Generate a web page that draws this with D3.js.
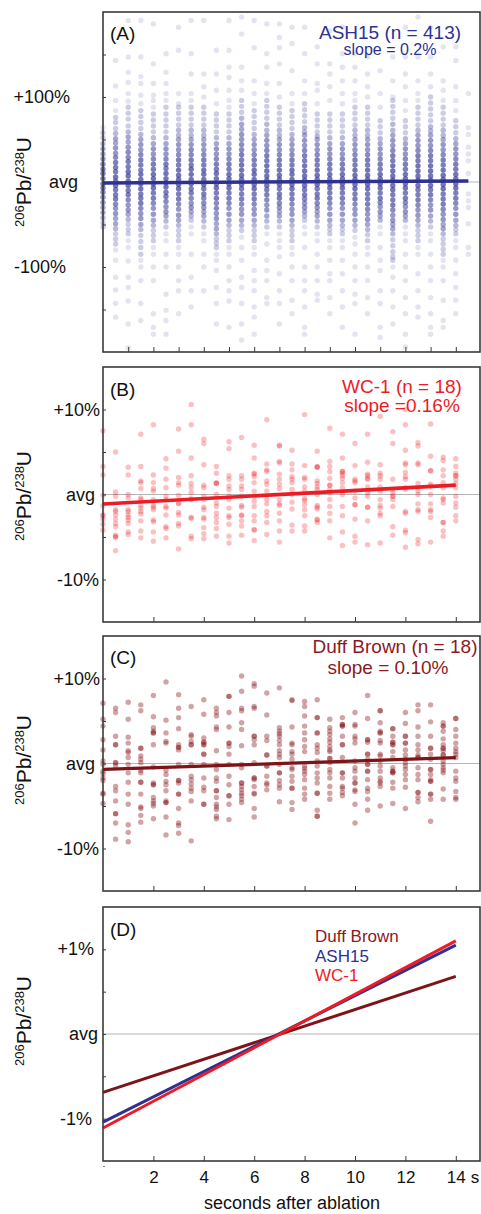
<!DOCTYPE html>
<html><head><meta charset="utf-8">
<script src="https://cdn.jsdelivr.net/npm/d3@7"></script>
<style>
body{margin:0;background:#fff}
svg{display:block}
text{font-family:"Liberation Sans",Arial,Helvetica,sans-serif}
</style>
</head><body>
<svg id="chart" width="481" height="1214"></svg>
<script>
// ---------------- DATA ----------------
// Panel A: ASH15 — one column per half second; entries "value" or "value:stacked count" (percent from average)
const ashTimes = [0,0.5,1,1.5,2,2.5,3,3.5,4,4.5,5,5.5,6,6.5,7,7.5,8,8.5,9,9.5,10,10.5,11,11.5,12,12.5,13,13.5,14,14.5];
const ashColumns = [
"64 58:2 52:2 45:3 39:4 33:4 27:5 21:6 15:7 10:7 4:7 -2:7 -7:7 -12:6 -18:5 -24:5 -30:4 -36:4 -42:3 -48:2 -53:2",
"143 113 96 84 76:2 70:2 63:2 57:3 51:4 46:4 40:5 34:5 29:6 23:7 17:7 12:7 6:8 1:8 -4:8 -9:7 -15:7 -20:7 -26:6 -31:5 -37:5 -43:4 -49:4 -55:3 -61:2 -67:2 -73:2 -80 -92 -112 -127 -143 -159",
"190 147 129 117 104 95 88:2 81:2 74:2 66:2 59:3 53:4 47:4 41:5 35:6 29:6 24:7 18:7 12:8 7:8 1:8 -4:8 -10:7 -15:7 -21:6 -27:5 -33:5 -38:4 -44:3 -50:2 -56:2 -61:2 -69 -77 -93 -112 -124 -140 -167 -195",
"190 147 124 116 102 92 84:2 77:2 70:2 63:2 56:3 50:4 44:5 38:5 32:6 26:7 20:7 14:7 9:8 3:8 -2:8 -8:8 -14:7 -19:7 -25:7 -31:6 -37:5 -43:5 -50:4 -56:3 -63:2 -70:2 -77:2 -85:2 -92 -100 -116 -143 -163",
"186 139 116 102 96 88 80:2 73:2 66:2 59:2 52:3 45:4 39:5 33:5 27:6 21:7 15:7 9:8 4:8 -2:8 -7:8 -13:7 -19:7 -25:6 -31:5 -38:5 -45:4 -51:3 -57:2 -63:2 -69:2 -77 -85 -100 -116 -155 -171 -179",
"151 129 116 104 96 88:2 80:2 73:2 66:2 59:2 52:3 45:4 39:5 33:5 27:6 21:7 16:7 10:8 4:8 -1:8 -6:8 -12:7 -17:7 -23:6 -29:5 -35:5 -40:4 -46:3 -53:2 -61 -69 -85 -100 -132 -151 -163 -179",
"182 155 104 92 88:2 81:2 74:2 67:2 61:3 55:3 50:4 44:5 38:5 32:6 26:7 20:7 14:8 8:8 3:8 -3:8 -8:8 -14:7 -20:7 -26:6 -32:5 -39:5 -45:4 -51:3 -57:2 -63:2 -69:2 -77 -85 -100 -116 -128 -155",
"190 151 127 104 96 88:2 81:2 74:2 67:2 61:3 55:3 50:4 44:5 38:6 32:6 26:7 20:7 15:8 9:8 3:8 -2:8 -8:7 -13:7 -19:6 -25:5 -30:5 -35:4 -40:3 -45:2 -53 -61 -85 -112 -128 -147",
"190 127 112 100 88:2 81:2 74:2 67:2 61:3 55:3 50:4 44:5 38:5 32:6 26:7 20:7 14:8 9:8 3:8 -3:8 -8:7 -14:7 -19:6 -25:6 -30:5 -35:4 -40:4 -46:3 -53:2 -61 -69 -85 -100 -128",
"155 127 108 92 80:2 73:2 66:2 59:2 52:3 45:4 39:5 33:5 27:6 21:7 15:7 10:8 4:8 -2:8 -7:8 -13:7 -19:7 -25:6 -31:6 -37:5 -43:5 -49:4 -55:4 -61:3 -67:2 -72:2 -77:2 -85 -92 -104 -124 -143 -167",
"190 155 135 123 108 96 88 80:2 73:2 66:2 59:2 52:3 45:4 39:5 33:5 27:6 21:7 15:7 9:8 4:8 -2:8 -7:8 -13:7 -19:7 -25:6 -31:5 -38:5 -45:4 -51:3 -57:2 -63:2 -69:2 -77 -85 -100 -116 -128 -140 -171",
"194 174 135 119 108 96:2 89:2 82:2 75:3 68:4 62:4 56:5 50:5 44:6 38:6 32:7 26:7 20:8 14:8 8:8 3:8 -3:8 -8:7 -14:7 -20:7 -26:6 -32:5 -38:5 -45:4 -51:3 -57:2 -65 -77 -92 -112 -124 -143 -167 -186",
"190 158 119 104 92 84:2 77:2 70:2 63:2 56:3 50:4 44:5 38:5 32:6 26:7 20:7 14:8 9:8 3:8 -3:8 -8:8 -14:7 -20:7 -26:6 -32:5 -38:5 -45:4 -51:3 -57:2 -63:2 -69:2 -77 -85 -104 -116 -128 -147 -159 -179",
"186 151 135 116 104 96:2 89:2 82:2 75:2 68:3 61:3 55:4 49:5 43:5 37:6 31:7 25:7 19:8 13:8 7:8 2:8 -4:8 -9:7 -15:7 -21:6 -27:5 -33:5 -40:4 -46:3 -53:2 -61 -73 -92 -104 -116 -136 -143",
"186 170 158 139 116 100 88:2 81:2 74:2 67:2 61:3 55:3 50:4 44:5 38:5 32:6 26:7 20:7 14:8 8:8 3:8 -3:8 -8:7 -14:7 -19:7 -25:6 -30:5 -35:4 -40:4 -46:3 -53:2 -61 -69 -77 -88 -108 -128 -143 -167",
"182 163 131 104 92 84:2 77:2 70:2 63:2 56:3 50:4 44:5 38:5 32:6 26:7 20:7 14:8 9:8 3:8 -3:8 -8:8 -14:7 -20:7 -26:6 -32:5 -38:5 -45:4 -51:3 -57:2 -63:2 -69:2 -77 -85 -100 -116 -139 -155",
"182 151 119 104 92:2 85:2 78:2 71:2 64:3 59:3 55:4 49:5 43:5 37:6 31:7 25:7 19:8 13:8 7:8 2:8 -4:8 -9:7 -15:7 -20:6 -25:5 -30:5 -35:4 -40:3 -45:2 -53 -61 -77 -100 -116 -128 -147 -171 -179",
"159 139 116 108 92 80:2 73:2 66:2 59:2 54:3 50:4 44:5 38:5 32:6 26:7 20:7 14:8 8:8 3:8 -3:8 -8:7 -14:7 -19:7 -25:6 -30:5 -35:4 -40:4 -46:3 -53:2 -61 -69 -85 -100 -116 -132 -139",
"178 139 127 112 96 80:2 73:2 66:2 59:2 52:3 45:4 39:5 33:5 27:6 21:7 15:7 9:8 4:8 -2:8 -7:8 -13:7 -19:7 -25:6 -31:5 -38:5 -45:4 -51:3 -56:2 -61:2 -69 -77 -92 -108 -116 -136 -155",
"182 151 135 119 104 92 80:2 73:2 66:2 59:2 52:3 45:4 39:5 33:5 27:6 21:7 15:7 9:8 4:8 -2:8 -7:8 -13:7 -19:7 -25:6 -31:5 -38:5 -45:4 -51:3 -56:2 -61:2 -69 -77 -92 -108 -128 -147 -171",
"151 135 119 104 96 88:2 81:2 74:2 67:2 61:3 55:3 50:4 44:5 38:5 32:6 26:7 20:7 14:8 8:8 3:8 -3:8 -8:8 -14:7 -20:7 -26:6 -32:5 -38:5 -45:4 -51:3 -57:2 -65 -73 -85 -100 -116 -132 -143 -179",
"147 127 112 100 88:2 81:2 74:2 67:2 61:3 55:3 50:4 44:5 38:5 32:6 26:7 20:7 14:8 8:8 3:8 -3:8 -8:8 -14:7 -20:7 -26:7 -32:6 -38:5 -44:5 -50:4 -56:3 -62:2 -69:2 -77 -85 -100 -116 -136 -155",
"131 104 88 72:2 65:2 58:2 51:3 45:4 39:5 33:5 27:6 21:7 15:7 9:8 4:8 -2:8 -7:8 -13:7 -19:7 -24:6 -29:5 -35:5 -40:4 -45:3 -53 -61 -77 -92 -104 -128 -143 -171 -183",
"147 119 100 96:2 89:2 82:2 75:2 68:3 61:3 55:4 49:5 43:5 37:6 31:7 25:7 19:8 13:8 7:8 2:8 -4:8 -9:8 -15:7 -21:7 -27:7 -33:6 -39:5 -45:5 -50:4 -55:4 -61:3 -68:2 -75:2 -82:2 -88:2 -92:2 -100 -112 -128 -147 -167",
"182 147 127 112 96 84 72:2 65:2 58:2 51:3 45:4 39:5 33:5 27:6 21:7 15:7 9:8 4:8 -2:8 -7:8 -13:7 -19:7 -24:6 -29:5 -35:5 -40:4 -45:3 -53 -61 -69 -85 -100 -116 -136 -155 -179 -194",
"194 147 119 104 96 88:2 81:2 74:2 67:2 61:3 55:4 49:5 43:5 37:6 31:7 25:7 19:8 13:8 7:8 2:8 -4:8 -9:7 -15:7 -21:7 -27:6 -33:5 -39:5 -45:4 -51:3 -57:2 -63:2 -69:2 -77 -85 -108 -128 -147 -159",
"182 147 127 112 100:2 93:2 86:2 79:2 72:2 65:3 60:3 55:4 49:5 43:5 37:6 31:7 25:7 19:8 13:8 7:8 2:8 -4:8 -9:7 -15:7 -21:6 -27:5 -33:5 -40:4 -46:3 -53:2 -61 -69 -85 -100 -116 -136 -155 -171 -179",
"159 119 108 96 88:2 81:2 74:2 67:2 61:3 55:3 50:4 44:5 38:5 32:6 26:7 20:7 14:8 8:8 3:8 -3:8 -8:8 -14:7 -20:7 -26:7 -32:6 -38:5 -44:5 -50:4 -55:4 -61:3 -67:2 -73:2 -79:2 -85:2 -92 -100 -116 -139 -163 -171",
"159 143 112 96 84 72:2 65:2 58:2 51:3 45:4 39:5 33:5 27:6 21:7 15:7 9:8 4:8 -2:8 -7:8 -13:7 -19:7 -25:6 -31:5 -38:5 -45:4 -51:3 -56:2 -61:2 -69 -77 -92 -108 -124 -139 -155",
"104 64 56 41 33 25 10 -14 -22 -30 -49 -77 -85"
];

// Panel B: WC-1 (percent from average)
const wcTimes = [0,0.5,1,1.5,2,2.5,3,3.5,4,4.5,5,5.5,6,6.5,7,7.5,8,8.5,9,9.5,10,10.5,11,11.5,12,12.5,13,13.5,14];
const wcValues = [
[7.5,3.3,2.3,-0.1,-1.3,-2.4,-2.5,-2.9,-3.5,-4.2],
[5.0,0.3,-0.2,-1.8,-2.0,-2.4,-2.9,-3.4,-3.8,-4.8,-5.0,-5.0,-6.6],
[3.2,2.3,0.0,-0.4,-1.8,-2.0,-2.4,-2.7,-3.0,-3.4,-4.4,-4.7],
[7.1,3.3,1.6,1.4,0.7,-0.4,-0.6,-1.3,-1.6,-2.0,-2.3,-3.1,-4.3,-5.1],
[8.2,2.3,1.4,0.7,0.4,-0.6,-1.3,-1.5,-1.8,-3.0,-3.2,-4.4,-5.5],
[4.2,3.1,1.8,0.8,-0.2,-0.6,-1.4,-1.6,-2.4,-3.8,-4.0,-5.1],
[7.7,5.1,2.0,1.4,1.1,-0.1,-1.0,-1.1,-2.1,-2.4,-3.4,-3.7,-6.4],
[10.6,8.2,4.3,2.2,1.3,0.8,0.2,-0.5,-0.6,-2.7,-2.8,-4.9,-5.2],
[6.5,6.0,3.5,1.1,0.8,-0.2,-0.6,-1.5,-1.8,-2.7,-2.9,-3.9,-4.6,-5.2],
[3.3,2.5,1.4,1.3,1.3,0.0,-1.0,-1.4,-2.2,-2.7,-3.3,-4.0,-4.9],
[6.2,5.4,2.2,1.8,1.0,0.6,-0.2,-0.6,-1.6,-2.5,-2.7,-3.5,-4.9,-5.7],
[6.7,2.2,1.8,1.0,0.6,-0.2,-1.3,-1.5,-2.4,-2.5,-3.1,-3.7,-4.8],
[5.8,4.3,2.5,2.4,2.1,1.4,0.4,-0.2,-0.8,-1.4,-2.5,-3.1,-4.1,-4.2,-5.4],
[8.8,3.6,2.9,2.7,1.6,1.2,0.4,-0.6,-1.1,-2.0,-2.5,-3.3,-4.7],
[5.8,5.7,3.9,3.7,2.4,1.8,1.2,0.7,-0.6,-1.1,-1.3,-2.2,-3.1,-4.3,-5.6],
[5.2,3.6,2.9,2.1,1.8,1.4,0.6,0.0,-0.9,-1.7,-3.6,-4.3],
[9.4,3.4,2.0,1.8,0.9,0.4,-0.5,-0.7,-1.2,-1.8,-2.5,-3.7,-4.3],
[5.1,3.3,3.2,3.2,1.6,1.3,0.9,0.6,0.0,-1.3,-1.5,-1.7,-2.9,-3.0,-3.3],
[7.8,3.9,3.3,2.7,1.9,1.1,1.1,0.6,0.2,-0.6,-1.4,-2.2,-3.1,-5.1],
[7.1,4.3,2.7,2.7,2.5,2.2,1.9,1.4,0.8,0.0,-1.4,-2.5,-4.4,-6.0],
[6.0,3.4,1.8,1.6,1.4,0.4,-0.4,-1.2,-1.2,-2.9,-4.9,-5.6],
[7.1,3.8,2.4,2.2,1.9,1.8,0.9,0.2,-0.2,-1.5,-1.5,-3.1,-5.9],
[9.2,3.5,2.5,2.2,1.8,0.9,0.4,-0.6,-1.3,-1.6,-2.2,-2.5,-5.7],
[7.4,6.0,1.8,0.6,0.2,-0.2,-0.2,-0.6,-1.4,-3.8,-4.8],
[10.0,8.2,5.2,3.7,3.5,2.6,2.1,1.8,0.8,0.6,-2.0,-2.2,-4.2,-4.5,-6.2],
[6.1,5.7,3.7,3.5,1.3,0.4,0.0,-1.1,-1.8,-2.0,-5.3,-5.8],
[8.3,4.5,2.8,2.8,1.2,1.0,0.0,-1.1,-1.8,-2.0,-2.7,-5.6],
[4.4,4.0,2.9,2.2,1.4,0.8,-0.4,-0.6,-1.0,-3.3,-3.3,-4.3,-4.9],
[4.2,3.3,2.5,2.2,2.2,1.8,1.3,0.8,-0.2,-1.0,-1.5,-2.5,-3.1]
];

// Panel C: Duff Brown (percent from average)
const dbTimes = [0,0.5,1,1.5,2,2.5,3,3.5,4,4.5,5,5.5,6,6.5,7,7.5,8,8.5,9,9.5,10,10.5,11,11.5,12,12.5,13,13.5,14];
const dbValues = [
[7.1,5.2,4.4,2.8,1.6,0.3,-0.1,-0.9,-1.2,-1.7,-2.0,-3.5,-3.6,-4.7],
[6.5,6.0,3.2,2.2,2.2,0.1,0.1,-0.3,-2.7,-3.2,-4.4,-5.9,-5.9,-7.0,-8.9],
[7.2,5.2,3.1,2.4,1.5,1.3,0.7,-0.1,-1.1,-2.2,-3.6,-4.8,-7.2,-8.1,-9.2],
[6.9,6.2,1.8,1.8,0.9,0.5,0.1,-0.8,-1.1,-2.2,-2.2,-3.6,-5.1,-5.3,-6.1,-6.9],
[8.0,5.5,4.2,3.8,3.6,3.6,2.2,-0.4,-2.3,-2.5,-2.5,-4.0,-4.4,-4.7,-5.0,-6.5],
[9.6,5.1,3.6,2.6,2.4,-0.8,-1.3,-2.1,-2.5,-3.2,-4.4,-4.6,-4.6,-6.3,-8.4],
[8.1,6.5,5.4,4.1,2.2,1.9,1.9,1.6,-0.1,-2.0,-2.0,-2.3,-3.6,-3.6,-5.3,-7.0,-7.3,-8.2],
[6.7,3.4,3.2,2.6,2.2,2.2,-0.1,-1.5,-1.9,-2.4,-2.9,-3.3,-4.4,-9.1],
[7.5,5.8,3.0,2.5,2.5,2.2,2.2,1.1,1.1,-0.1,-1.7,-2.8,-3.2,-4.8,-4.8],
[6.5,6.0,5.6,4.3,4.0,1.5,-0.1,-0.7,-1.7,-2.1,-3.2,-3.2,-4.0,-4.8,-5.1,-5.4,-6.2,-6.5],
[7.9,7.9,6.0,4.3,2.4,2.4,2.0,1.1,-0.1,-1.5,-2.5,-3.8,-3.8,-4.8,-6.6],
[10.3,8.5,6.5,6.2,4.8,4.0,2.1,-0.1,-0.5,-2.3,-2.3,-2.7,-3.1,-3.5,-3.8,-4.2,-4.6],
[9.4,9.1,6.7,6.5,3.2,3.2,2.8,2.2,0.1,-1.7,-1.7,-1.9,-2.7,-3.5,-3.6,-5.3,-6.3],
[8.3,5.7,3.2,2.7,1.0,1.0,-0.3,-0.3,-1.5,-2.3,-2.5,-3.1],
[8.9,4.2,3.8,3.5,3.2,2.7,2.2,1.5,1.1,0.7,-0.1,-1.1,-1.1,-2.0,-2.5,-2.9,-4.5],
[7.5,7.4,4.3,2.4,2.2,1.4,1.1,0.5,-0.5,-0.7,-1.5,-2.1,-2.9,-2.9,-4.6,-5.4],
[7.3,6.7,5.6,4.4,3.6,2.8,2.0,1.4,-0.3,-0.6,-0.9,-1.3,-1.9,-2.9,-3.6,-4.2],
[7.5,5.4,5.4,3.6,3.6,2.2,1.8,1.3,0.3,-0.3,-1.1,-1.7,-2.3,-3.5,-3.5,-5.5,-6.2,-6.2],
[5.2,4.2,3.8,3.4,2.9,2.5,2.0,1.6,1.4,0.6,0.6,0.1,-0.7,-1.1,-1.7,-2.7,-3.5,-4.2],
[5.4,4.6,4.6,4.4,4.4,3.2,2.2,2.2,0.7,-1.1,-1.1,-1.7,-2.7,-2.9,-3.4,-3.8],
[6.0,4.6,4.4,3.2,2.9,2.4,0.3,-0.5,-0.9,-1.7,-2.3,-2.3,-3.1,-3.3,-4.8,-7.0],
[8.0,5.3,2.8,2.8,2.5,1.1,1.1,0.5,-0.1,-0.1,-0.9,-0.9,-1.9,-2.9,-3.3,-4.2,-5.5],
[6.2,6.2,4.8,3.8,3.6,3.6,2.7,2.4,1.1,0.9,0.3,-0.3,-0.9,-1.7,-2.1,-2.3,-2.7,-5.0],
[4.1,4.1,3.2,2.5,2.5,2.2,2.2,1.4,0.7,-0.5,-0.9,-0.9,-1.1,-1.1,-2.2,-2.9,-4.7],
[6.0,4.7,3.2,3.2,2.4,2.4,1.6,1.0,0.5,0.1,-0.3,-0.7,-1.3,-1.9,-2.8,-5.3],
[6.9,6.2,4.3,3.2,2.2,1.6,1.0,0.7,0.7,-0.5,-1.3,-1.9,-3.4,-3.4,-4.0,-4.5],
[6.9,4.9,3.2,1.8,1.8,1.1,0.5,-0.7,-0.7,-1.3,-1.9,-2.1,-2.1,-3.6,-3.6,-4.2,-6.8],
[4.8,4.4,4.4,3.8,2.9,2.2,1.8,1.8,1.5,1.0,1.0,0.3,-0.1,-0.5,-0.8,-1.1,-3.0,-4.2],
[5.3,5.3,4.0,3.2,2.4,1.8,1.4,1.1,0.7,-0.9,-1.7,-2.1,-3.3,-4.0,-4.2]
];

// Regression lines: value (% from average) at 0 s and at 14 s
const fitNames  = ["Duff Brown","ASH15","WC-1"];
const fitStart  = [-0.69,-1.04,-1.11];
const fitEnd    = [0.68,1.05,1.10];

// Text
const headA = ["ASH15 (n = 413)","slope = 0.2%"];
const headB = ["WC-1 (n = 18)","slope =0.16%"];
const headC = ["Duff Brown (n = 18)","slope = 0.10%"];
const yLabA = ["+100%","avg","-100%"], yValA = [100,0,-100];
const yLabB = ["+10%","avg","-10%"],   yValB = [10,0,-10];
const yLabC = ["+10%","avg","-10%"],   yValC = [10,0,-10];
const yLabD = ["+1%","avg","-1%"],     yValD = [1,0,-1];
const xTicksA = [1,2,3,4,5,6,7,8,9,10,11,12,13,14];
const xTicks  = [2,4,6,8,10,12,14];
const xTitle = "seconds after ablation";

// ---------------- DRAW ----------------
const C_NAVY = "#2e3192", C_RED = "#ed1c24", C_BROWN = "#8a1a1f", C_BROWN_LINE = "#7d1418";
const colorOf = {"ASH15":C_NAVY,"WC-1":C_RED,"Duff Brown":C_BROWN_LINE};
const svg = d3.select("#chart");
const X0 = 103, X1 = 480;
const x = d3.scaleLinear().domain([0,15]).range([103,481]);

const panels = [
  {id:"A", top:12,  bottom:352,  dom:200, tickStep:50,  lab:yLabA, labV:yValA, labX:[70,78,66], tcY:182, letter:"(A)", letterY:40},
  {id:"B", top:367, bottom:622,  dom:15,  tickStep:5,   lab:yLabB, labV:yValB, labX:[100,95,99], tcY:496, letter:"(B)", letterY:396},
  {id:"C", top:636, bottom:891,  dom:15,  tickStep:5,   lab:yLabC, labV:yValC, labX:[100,95,99], tcY:760, letter:"(C)", letterY:664},
  {id:"D", top:907, bottom:1161, dom:1.5, tickStep:0.5, lab:yLabD, labV:yValD, labX:[94,98,92], tcY:1021, letter:"(D)", letterY:936}
];
panels.forEach(p => { p.y = d3.scaleLinear().domain([-p.dom,p.dom]).range([p.bottom,p.top]); });

function fitValue(i, t){ return fitStart[i] + (fitEnd[i]-fitStart[i]) * t / 14; }
function fitLine(g, p, i, tEnd, w){
  g.append("line")
   .attr("x1", x(0)).attr("y1", p.y(fitValue(i,0)))
   .attr("x2", x(tEnd)).attr("y2", p.y(fitValue(i,tEnd)))
   .attr("stroke", colorOf[fitNames[i]]).attr("stroke-width", w).attr("stroke-linecap","butt");
}

panels.forEach(p => {
  const g = svg.append("g");
  p.g = g;
  g.append("line").attr("x1",X0).attr("x2",X1).attr("y1",p.y(0)).attr("y2",p.y(0))
   .attr("stroke","#b4b4b4").attr("stroke-width",1);
});

// Panel A dots
(function(){
  const p = panels[0], a = 0.13;
  const pts = [];
  ashColumns.forEach((s,i) => {
    s.trim().split(/\s+/).forEach(tok => {
      const [v,c] = tok.split(":");
      pts.push({t:ashTimes[i], v:+v, c:c ? +c : 1});
    });
  });
  p.g.append("g").selectAll("circle").data(pts).join("circle")
    .attr("cx", d => x(d.t)).attr("cy", d => p.y(d.v)).attr("r", 2.7)
    .attr("fill", C_NAVY).attr("fill-opacity", d => 1 - Math.pow(1-a, d.c));
  fitLine(p.g, p, 1, 14.5, 3.5);
})();

function scatter(p, times, vals, color, op){
  const pts = [];
  vals.forEach((col,i) => col.forEach(v => pts.push({t:times[i], v})));
  p.g.append("g").selectAll("circle").data(pts).join("circle")
    .attr("cx", d => x(d.t)).attr("cy", d => p.y(d.v)).attr("r", 2.7)
    .attr("fill", color).attr("fill-opacity", op);
}
scatter(panels[1], wcTimes, wcValues, C_RED, 0.28);
fitLine(panels[1].g, panels[1], 2, 14, 3.6);
scatter(panels[2], dbTimes, dbValues, C_BROWN, 0.4);
fitLine(panels[2].g, panels[2], 0, 14, 3.2);
fitLine(panels[3].g, panels[3], 0, 14, 3);
fitLine(panels[3].g, panels[3], 1, 14, 3);
fitLine(panels[3].g, panels[3], 2, 14, 3);

panels.forEach((p,pi) => {
  const g = p.g;
  g.append("rect").attr("x",X0).attr("y",p.top).attr("width",X1-X0).attr("height",p.bottom-p.top)
   .attr("fill","none").attr("stroke","#3a3a3a").attr("stroke-width",1.6);
  const yt = d3.range(-p.dom + p.tickStep, p.dom, p.tickStep).map(v => +v.toFixed(3));
  const ay = g.append("g").attr("transform",`translate(${X0},0)`)
    .call(d3.axisRight(p.y).tickValues(yt).tickSize(3).tickFormat(""));
  ay.select(".domain").remove();
  ay.selectAll("line").attr("stroke","#3a3a3a").attr("stroke-width",1);
  const ax = g.append("g").attr("transform",`translate(0,${p.bottom})`)
    .call(d3.axisTop(x).tickValues(pi===0 ? xTicksA : xTicks).tickSize(5).tickFormat(""));
  ax.select(".domain").remove();
  ax.selectAll("line").attr("stroke","#3a3a3a").attr("stroke-width",1);
  p.lab.forEach((t,i) => {
    g.append("text").attr("x",p.labX[i]).attr("y",p.y(p.labV[i])).attr("dy","0.34em")
     .attr("text-anchor","end").attr("font-size",18).attr("fill","#111").text(t);
  });
  const tt = g.append("text").attr("transform",`translate(31,${p.tcY}) rotate(-90)`)
    .attr("text-anchor","middle").attr("fill","#111");
  tt.append("tspan").attr("font-size",13).attr("dy",-7).text("206");
  tt.append("tspan").attr("font-size",21).attr("dy",7).text("Pb/");
  tt.append("tspan").attr("font-size",13).attr("dy",-7).text("238");
  tt.append("tspan").attr("font-size",21).attr("dy",7).text("U");
  g.append("text").attr("x",110).attr("y",p.letterY).attr("font-size",19).attr("fill","#111").text(p.letter);
});

function head(lines, cx, ys, sizes, color){
  lines.forEach((t,i) => svg.append("text").attr("x",cx[i]).attr("y",ys[i]).attr("text-anchor","middle")
    .attr("font-size",sizes[i]).attr("fill",color).text(t));
}
head(headA, [390,390], [39,55], [19,16], C_NAVY);
head(headB, [402,402], [393,412], [19,19], C_RED);
head(headC, [395,388], [653,674], [19,19], C_BROWN);

const legColors = [C_BROWN, C_NAVY, C_RED];
fitNames.forEach((n,i) => svg.append("text").attr("x",315).attr("y",942 + i*19.5)
  .attr("font-size",17).attr("fill",legColors[i]).text(n));

const pD = panels[3];
const axl = svg.append("g").attr("transform",`translate(0,${pD.bottom})`)
  .call(d3.axisBottom(x).tickValues(xTicks).tickSize(0).tickPadding(10).tickFormat(d3.format("d")));
axl.select(".domain").remove();
axl.selectAll("text").attr("font-size",17).attr("fill","#111")
  .attr("font-family",'"Liberation Sans",Arial,sans-serif');
svg.append("text").attr("x",x(14)+15).attr("y",pD.bottom+22).attr("font-size",17).attr("fill","#111").text("s");
svg.append("line").attr("x1",103).attr("x2",105).attr("y1",pD.bottom+5.5).attr("y2",pD.bottom+5.5)
  .attr("stroke","#888").attr("stroke-width",1);
svg.append("text").attr("x",292).attr("y",1209).attr("text-anchor","middle").attr("font-size",18)
  .attr("fill","#111").text(xTitle);
</script>
</body></html>
